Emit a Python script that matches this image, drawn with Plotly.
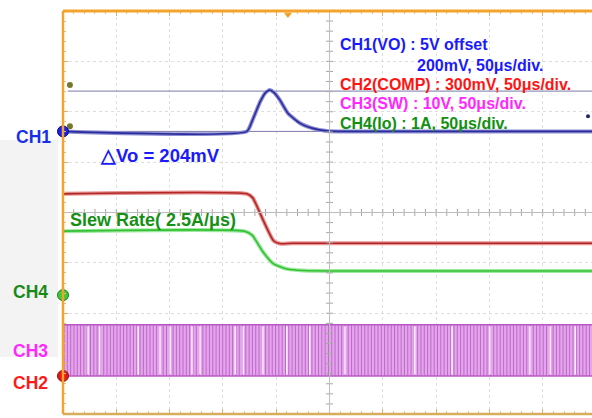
import numpy as np
import plotly.graph_objects as go

# ---------------- figure geometry ----------------
W, H = 592, 418
L, T, B = 63, 11, 4
PW, PH = W - L, H - T - B
DIV_X = 53.3                      # pixels per horizontal division
XMAX = PW / DIV_X                 # visible part of the 10-div screen
YMAX = 8

# ---------------- data (in screen divisions) ----------------
ch1_t = [0, 3.45, 3.55, 3.70, 3.80, 3.88, 3.96, 4.07, 4.22, 4.45, 4.69, 4.95, 5.30, XMAX]
ch1_v = [5.61, 5.61, 5.82, 6.20, 6.38, 6.43, 6.38, 6.23, 5.97, 5.77, 5.67, 5.62, 5.61, 5.61]

ch2_t = [0, 3.45, 3.56, 3.75, 3.95, 4.08, 4.30, XMAX]
ch2_v = [4.37, 4.37, 4.29, 3.86, 3.44, 3.38, 3.39, 3.39]

ch4_t = [0, 3.40, 3.55, 3.75, 3.95, 4.20, 4.50, XMAX]
ch4_v = [3.63, 3.63, 3.55, 3.22, 2.98, 2.88, 2.85, 2.84]

ch3_high, ch3_low = 1.77, 0.755
ch3_period = 0.062               # switching period (div)
ch3_gaps = [0.47, 0.69, 1.41, 1.82, 2.01, 2.42, 2.57, 3.23, 3.38, 3.75, 4.20,
            4.63, 5.29, 6.60, 7.30, 8.01, 8.76, 9.14, 9.61]

cursor_levels = [6.41, 5.61]
cursor_dots_y = [6.53, 5.71]

marker_levels = {"CH1": 5.61, "CH4": 2.36, "CH2": 0.755}

legend_lines = [
    ("CH1(VO) : 5V offset", "#1a1aff", 340, 44),
    ("200mV, 50μs/div.", "#1a1aff", 417, 65),
    ("CH2(COMP) : 300mV, 50μs/div.", "#ff1414", 340, 85),
    ("CH3(SW) : 10V, 50μs/div.", "#ff28ff", 340, 104),
    ("CH4(Io) : 1A, 50μs/div.", "#129012", 340, 124),
]

FONT = "Liberation Sans, Arial, sans-serif"


def px(x):
    return (x - L) / PW


def py(y):
    return (H - B - y) / PH


fig = go.Figure()

# ---------------- CH3 switching band ----------------
fig.add_trace(go.Scatter(
    x=[0, XMAX, XMAX, 0, 0], y=[ch3_low, ch3_low, ch3_high, ch3_high, ch3_low],
    fill="toself", fillcolor="#e3a6ea", line=dict(width=0), mode="lines",
    hoverinfo="skip", showlegend=False))
sw_x = np.arange(0.02, XMAX, ch3_period)
vx, vy = [], []
for t in sw_x:
    vx += [t, t, None]
    vy += [ch3_low, ch3_high, None]
fig.add_trace(go.Scatter(x=vx, y=vy, mode="lines",
                         line=dict(color="#c066cc", width=1),
                         hoverinfo="skip", showlegend=False))
gx, gy = [], []
for t in ch3_gaps:
    gx += [t, t, None]
    gy += [ch3_low + 0.03, ch3_high - 0.03, None]
fig.add_trace(go.Scatter(x=gx, y=gy, mode="lines",
                         line=dict(color="#ffffff", width=1.3),
                         hoverinfo="skip", showlegend=False))
for lvl in (ch3_low, ch3_high):
    fig.add_trace(go.Scatter(x=[0, XMAX], y=[lvl, lvl], mode="lines",
                             line=dict(color="#b858c4", width=1.5),
                             hoverinfo="skip", showlegend=False))

# ---------------- analog traces ----------------
def trace(t, v, halo, core):
    fig.add_trace(go.Scatter(x=t, y=v, mode="lines",
                             line=dict(color=halo, width=4, shape="spline", smoothing=0.5),
                             hoverinfo="skip", showlegend=False))
    fig.add_trace(go.Scatter(x=t, y=v, mode="lines",
                             line=dict(color=core, width=1.6, shape="spline", smoothing=0.5),
                             hoverinfo="skip", showlegend=False))


trace(ch4_t, ch4_v, "#9ee89e", "#34c034")
trace(ch2_t, ch2_v, "#e69494", "#b32626")

# cursors
for lvl in cursor_levels:
    fig.add_trace(go.Scatter(x=[0.09, XMAX], y=[lvl, lvl], mode="lines",
                             line=dict(color="#7a7aaa", width=1),
                             hoverinfo="skip", showlegend=False))
trace(ch1_t, ch1_v, "#8d8ed2", "#2b2d9c")

fig.add_trace(go.Scatter(x=[0.13, 0.13], y=cursor_dots_y, mode="markers",
                         marker=dict(color="#76762e", size=6),
                         hoverinfo="skip", showlegend=False))
fig.add_trace(go.Scatter(x=[9.85], y=[5.91], mode="markers",
                         marker=dict(color="#25256e", size=4),
                         hoverinfo="skip", showlegend=False))

# centre graticule ticks
ctx = np.arange(0, XMAX, 0.2)
fig.add_trace(go.Scatter(x=ctx, y=[4] * len(ctx), mode="markers",
                         marker=dict(symbol="line-ns", size=5, line=dict(color="#a8a8a8", width=1)),
                         hoverinfo="skip", showlegend=False))
cty = np.arange(0, YMAX, 0.2)
fig.add_trace(go.Scatter(x=[5] * len(cty), y=cty, mode="markers",
                         marker=dict(symbol="line-ew", size=5, line=dict(color="#a8a8a8", width=1)),
                         hoverinfo="skip", showlegend=False))

# channel markers on the left edge
mcolors = {"CH1": ("#1a22e6", "#0a0a90"), "CH4": ("#3cc83c", "#1a801a"), "CH2": ("#e81818", "#901010")}
for name, lvl in marker_levels.items():
    fc, lc = mcolors[name]
    fig.add_trace(go.Scatter(x=[0], y=[lvl], mode="markers", cliponaxis=False,
                             marker=dict(color=fc, size=11, line=dict(color=lc, width=1)),
                             hoverinfo="skip", showlegend=False))

# trigger marker at top
fig.add_trace(go.Scatter(x=[4.22], y=[7.93], mode="markers", cliponaxis=False,
                         marker=dict(symbol="triangle-down", color="#f2a020", size=7),
                         hoverinfo="skip", showlegend=False))

# ---------------- shapes ----------------
shapes = [
    dict(type="rect", xref="paper", yref="paper", x0=px(0), x1=px(58), y0=py(357), y1=py(140),
         fillcolor="#f3f3f3", line=dict(width=0), layer="below"),
    dict(type="line", xref="x", yref="y", x0=0, x1=XMAX, y0=4, y1=4,
         line=dict(color="#bdbdbd", width=1)),
    dict(type="line", xref="x", yref="y", x0=5, x1=5, y0=0, y1=YMAX,
         line=dict(color="#bdbdbd", width=1)),
    dict(type="line", xref="paper", yref="paper", x0=0, x1=1, y0=0, y1=0,
         line=dict(color="#d6ad58", width=2.5)),
    dict(type="line", xref="paper", yref="paper", x0=0, x1=1, y0=1, y1=1,
         line=dict(color="#f4a42c", width=3)),
    dict(type="line", xref="paper", yref="paper", x0=0, x1=0, y0=0, y1=1,
         line=dict(color="#f4a42c", width=2.5)),
]

# ---------------- annotations ----------------
ann = []


def label(text, color, x, yc, size):
    ann.append(dict(text=f"<b>{text}</b>", xref="paper", yref="paper",
                    x=px(x), y=py(yc), xanchor="left", yanchor="middle",
                    showarrow=False, borderpad=0,
                    font=dict(family=FONT, size=size, color=color)))


label("CH1", "#1530e8", 15, 137, 17.5)
label("CH4", "#178a17", 12, 292, 17.5)
label("CH3", "#ff28ff", 12, 351, 17.5)
label("CH2", "#ff1a1a", 12, 383, 17.5)
label("△Vo = 204mV", "#1a1aff", 99, 155, 18.5)
label("Slew Rate( 2.5A/μs)", "#159015", 69, 220, 18)
for text, color, x, yc in legend_lines:
    label(text, color, x - 1, yc, 16)

fig.update_layout(
    width=W, height=H,
    margin=dict(l=L, r=0, t=T, b=B, autoexpand=False),
    paper_bgcolor="white", plot_bgcolor="white",
    shapes=shapes, annotations=ann,
    xaxis=dict(range=[0, XMAX], dtick=1, tick0=0, showticklabels=False,
               showgrid=True, gridcolor="#dedede", griddash="dot", gridwidth=1,
               zeroline=False, ticks="inside", ticklen=5, tickcolor="#d8b070",
               mirror="ticks", showline=True, linecolor="#f4a42c", linewidth=1,
               minor=dict(dtick=0.2, ticks="inside", ticklen=3, tickcolor="#e0c090",
                          showgrid=False)),
    yaxis=dict(range=[0, YMAX], dtick=1, tick0=0, showticklabels=False,
               showgrid=True, gridcolor="#dedede", griddash="dot", gridwidth=1,
               zeroline=False, ticks="inside", ticklen=5, tickcolor="#d8b070",
               showline=False,
               minor=dict(dtick=0.2, ticks="inside", ticklen=3, tickcolor="#e0c090",
                          showgrid=False)),
)

fig.write_html("out.html", config={"displayModeBar": False},
               post_script="document.body.style.margin='0';document.body.style.padding='0';")
